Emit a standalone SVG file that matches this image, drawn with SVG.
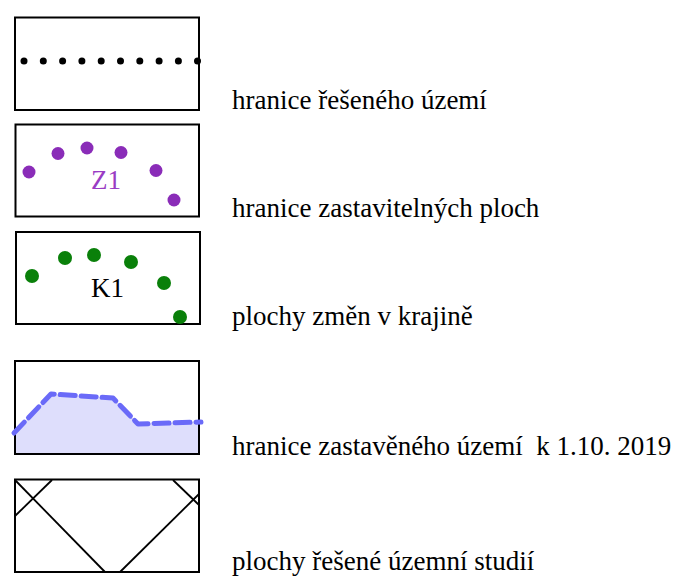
<svg xmlns="http://www.w3.org/2000/svg" width="679" height="583" viewBox="0 0 679 583">
<style>
.box{fill:none;stroke:#000;stroke-width:2}
.lbl{font-family:'Liberation Serif','Times New Roman',Tinos,'DejaVu Serif',serif;font-size:27px;fill:#000;white-space:pre}
.pd{fill:#8a2cb8}
.gd{fill:#0a800a}
.bd{fill:#000}
.ln{stroke:#000;stroke-width:1.8;fill:none}
</style>
<rect width="679" height="583" fill="#fff"/>
<g id="legend-resene-uzemi">
<rect class="box" x="15" y="17.5" width="184" height="92.5"/>
<g class="bd">
<circle cx="24" cy="61" r="3.5"/><circle cx="43.3" cy="61" r="3.5"/><circle cx="62.6" cy="61" r="3.5"/><circle cx="81.9" cy="61" r="3.5"/><circle cx="101.2" cy="61" r="3.5"/><circle cx="120.5" cy="61" r="3.5"/><circle cx="139.8" cy="61" r="3.5"/><circle cx="159.1" cy="61" r="3.5"/><circle cx="178.4" cy="61" r="3.5"/><circle cx="197.5" cy="61" r="3.5"/>
</g>
<text class="lbl" x="232" y="109" font-family="Liberation Serif, serif">hranice řešeného území</text>
</g>
<g id="legend-zastavitelne">
<rect class="box" x="15.5" y="124.5" width="183.5" height="92"/>
<g class="pd">
<circle cx="29" cy="172" r="6.5"/><circle cx="58" cy="153.5" r="6.5"/><circle cx="87" cy="148" r="6.5"/><circle cx="121" cy="152.5" r="6.5"/><circle cx="156" cy="170.5" r="6.5"/><circle cx="174" cy="200" r="6.5"/>
</g>
<text class="lbl" x="91" y="189" style="fill:#9a3cc4">Z1</text>
<text class="lbl" x="232" y="217">hranice zastavitelných ploch</text>
</g>
<g id="legend-zmeny-krajiny">
<rect class="box" x="16" y="232" width="184" height="92"/>
<g class="gd">
<circle cx="32" cy="276" r="7"/><circle cx="65" cy="258" r="7"/><circle cx="94" cy="255" r="7"/><circle cx="131" cy="262" r="7"/><circle cx="164" cy="283" r="7"/><circle cx="180" cy="317" r="7"/>
</g>
<text class="lbl" x="91" y="297">K1</text>
<text class="lbl" x="232" y="325">plochy změn v krajině</text>
</g>
<g id="legend-zastavene-uzemi">
<polygon points="15,433 51,394 113,398 138,424 199,422 199,454 15,454" fill="#dedefc"/>
<rect class="box" x="15" y="361" width="184" height="93"/>
<polyline points="14,433 51,394 113,398 138,424 201,422" fill="none" stroke="#6a6af8" stroke-width="5" stroke-linecap="round" stroke-linejoin="round" stroke-dasharray="15 6"/>
<text class="lbl" x="232" y="455" xml:space="preserve">hranice zastavěného území  k 1.10. 2019</text>
</g>
<g id="legend-uzemni-studie">
<rect class="box" x="15" y="479.5" width="184" height="92.5"/>
<line class="ln" x1="15" y1="480" x2="105" y2="572"/>
<line class="ln" x1="52" y1="480" x2="15" y2="516"/>
<line class="ln" x1="173" y1="480" x2="199" y2="505"/>
<line class="ln" x1="199" y1="494" x2="120" y2="572"/>
<text class="lbl" x="232" y="570">plochy řešené územní studií</text>
</g>
</svg>
